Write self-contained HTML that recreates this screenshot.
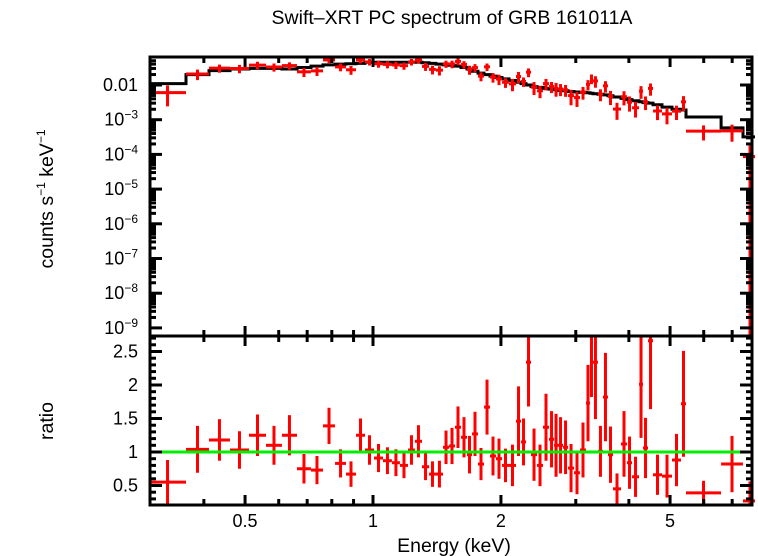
<!DOCTYPE html>
<html><head><meta charset="utf-8"><style>
body{margin:0;background:#fff}
svg{display:block;font-family:"Liberation Sans",sans-serif}
</style></head><body>
<svg id="chart" width="758" height="556" viewBox="0 0 758 556" xmlns="http://www.w3.org/2000/svg">
<defs>
<clipPath id="cTop"><rect x="150" y="57" width="605" height="279"/></clipPath>
<clipPath id="cBot"><rect x="150" y="336" width="605" height="169"/></clipPath>
</defs>
<text x="452" y="24" font-size="19.5" text-anchor="middle">Swift–XRT PC spectrum of GRB 161011A</text>
<text x="454" y="552" font-size="19.5" text-anchor="middle">Energy (keV)</text>
<text transform="translate(53,199) rotate(-90)" font-size="19.5" text-anchor="middle">counts s<tspan font-size="12" dy="-8">−1</tspan><tspan dy="8"> keV</tspan><tspan font-size="12" dy="-8">−1</tspan></text>
<text transform="translate(53,421) rotate(-90)" font-size="19.5" text-anchor="middle">ratio</text>
<g id="gTop" clip-path="url(#cTop)"></g>
<g id="gBot" clip-path="url(#cBot)"></g>
<g id="gAxes"></g>
</svg>
<script>
const binEdges = [0.2972,0.3631,0.4112,0.4607,0.5108,0.5601,0.6106,0.6624,0.7145,0.7627,0.8141,0.8640,0.9120,0.9576,1.0054,1.0556,1.108,1.157,1.209,1.255,1.304,1.355,1.406,1.461,1.510,1.559,1.611,1.664,1.710,1.766,1.825,1.885,1.947,2.012,2.089,2.170,2.230,2.291,2.354,2.432,2.512,2.595,2.667,2.725,2.800,2.877,2.972,3.069,3.171,3.240,3.293,3.383,3.476,3.572,3.670,3.833,3.960,4.069,4.226,4.319,4.437,4.559,4.786,5.053,5.305,5.451,6.591,7.422,8.010];
const ratioVals = [0.55,1.04,1.18,1.03,1.25,1.10,1.25,0.75,0.73,1.39,0.83,0.67,1.25,1.03,0.91,0.87,0.84,0.80,1.03,1.16,0.78,0.67,0.67,1.07,1.09,1.37,1.22,0.96,1.27,0.82,1.67,0.94,0.90,0.80,0.80,1.46,1.15,2.34,0.96,0.80,1.37,1.19,1.10,1.10,1.07,0.76,0.69,1.03,1.73,2.64,2.34,1.01,1.82,0.96,0.45,1.12,0.84,0.63,2.01,1.06,2.66,0.66,0.64,0.88,1.72,0.39,0.82,0.27];
const ratioErrs = [0.33,0.35,0.31,0.28,0.31,0.29,0.30,0.22,0.21,0.27,0.21,0.19,0.25,0.22,0.21,0.20,0.20,0.19,0.22,0.24,0.20,0.19,0.20,0.25,0.27,0.31,0.30,0.28,0.33,0.24,0.41,0.29,0.30,0.25,0.31,0.52,0.35,0.66,0.39,0.31,0.50,0.42,0.47,0.42,0.40,0.36,0.32,0.41,0.57,0.82,0.85,0.38,0.66,0.42,0.23,0.49,0.39,0.30,0.80,0.45,1.02,0.30,0.32,0.39,0.79,0.18,0.42,0.29];
const modelVals = [0.011,0.020,0.026,0.029,0.030,0.030,0.029,0.032,0.035,0.038,0.040,0.041,0.042,0.045,0.045,0.045,0.045,0.045,0.045,0.045,0.044,0.042,0.040,0.038,0.037,0.035,0.032,0.029,0.025,0.022,0.020,0.018,0.0165,0.0150,0.0135,0.0120,0.0110,0.0100,0.0090,0.0085,0.0080,0.0076,0.0073,0.0070,0.0068,0.0065,0.0063,0.0061,0.0060,0.0058,0.0056,0.0054,0.0052,0.0049,0.0045,0.0041,0.0038,0.0035,0.0033,0.0031,0.0030,0.0027,0.0023,0.0020,0.0019,0.0012,0.00058,0.00032];
const xMajorTicks = [0.5,1,2,5];
const xMajorLabels = ["0.5","1","2","5"];
const xMinorTicks = [0.3,0.4,0.6,0.7,0.8,0.9,3,4,6,7];
const ratioTicks = [0.5,1,1.5,2,2.5];
const ratioLabels = ["0.5","1","1.5","2","2.5"];
const countDecades = [-2,-3,-4,-5,-6,-7,-8,-9];

const NS="http://www.w3.org/2000/svg";
const L=150,R=752,T1=57,B1=336,T2=336,B2=505;
function xS(e){return 373+425*Math.log10(e);}
function yC(c){if(c<=0)return 9999;return 85-34.7*Math.log10(c/0.01);}
function yR(r){return 452-67*(r-1);}
function mk(parent,tag,attrs){const el=document.createElementNS(NS,tag);for(const k in attrs)el.setAttribute(k,attrs[k]);parent.appendChild(el);return el;}
const gT=document.getElementById('gTop'),gB=document.getElementById('gBot'),gA=document.getElementById('gAxes');

let d="";
for(let i=0;i<modelVals.length;i++){
  const x0=xS(binEdges[i]),x1=xS(binEdges[i+1]),y=yC(modelVals[i]);
  d+=(i===0?"M":"L")+x0.toFixed(1)+","+y.toFixed(1)+"L"+x1.toFixed(1)+","+y.toFixed(1);
}
const mp=mk(gT,'path',{d:d,fill:'none',stroke:'#000','stroke-width':3});



for(let i=0;i<ratioVals.length;i++){
  const x0=xS(binEdges[i]),x1=xS(binEdges[i+1]),xc=xS(Math.sqrt(binEdges[i]*binEdges[i+1]));
  const c=modelVals[i]*ratioVals[i],ce=modelVals[i]*ratioErrs[i];
  const g1=mk(gT,'g',{stroke:'#f00','stroke-width':3});
  
  
  mk(g1,'line',{x1:x0,x2:x1,y1:yC(c),y2:yC(c)});
  mk(g1,'line',{x1:xc,x2:xc,y1:yC(c+ce),y2:Math.min(400,yC(c-ce))});
  const r=ratioVals[i],re=ratioErrs[i];
  const g2=mk(gB,'g',{stroke:'#f00','stroke-width':3});
  
  
  mk(g2,'line',{x1:x0,x2:x1,y1:yR(r),y2:yR(r)});
  mk(g2,'line',{x1:xc,x2:xc,y1:yR(r+re),y2:yR(r-re)});
}
const gl=mk(gB,'line',{x1:L,x2:R,y1:yR(1),y2:yR(1),stroke:'#0e0','stroke-width':3});



for(const [t,b,n] of [[T1,B1,'top-frame'],[T2,B2,'ratio-frame']]){
  const f=mk(gA,'rect',{x:L,y:t,width:R-L,height:b-t,fill:'none',stroke:'#000','stroke-width':3});
  
  
}
function tk(x1,y1,x2,y2){mk(gA,'line',{x1:x1,y1:y1,x2:x2,y2:y2,stroke:'#000','stroke-width':3});}
for(const [t,b] of [[T1,B1],[T2,B2]]){
  xMajorTicks.forEach(e=>{const x=xS(e);tk(x,t,x,t+10);tk(x,b,x,b-10);});
  xMinorTicks.forEach(e=>{const x=xS(e);if(x>L+2){tk(x,t,x,t+6);tk(x,b,x,b-6);}});
}
xMajorTicks.forEach((e,i)=>{
  const t=mk(gA,'text',{x:xS(e),y:527,'font-size':18,'text-anchor':'middle'});
  t.textContent=xMajorLabels[i];
  
  
});
countDecades.forEach(p=>{
  const y=yC(Math.pow(10,p));
  tk(L,y,L+12,y);tk(R,y,R-12,y);
  for(let m=2;m<=9;m++){const ym=yC(m*Math.pow(10,p));if(ym>T1+1){tk(L,ym,L+6,ym);tk(R,ym,R-6,ym);}}
  const t=mk(gA,'text',{x:138,y:y+6,'font-size':18,'text-anchor':'end'});
  
  
  if(p===-2)t.textContent="0.01";
  else{t.textContent="10";const s=mk(t,'tspan',{'font-size':12,dy:-7});s.textContent=String(p).replace('-','−');}
});
ratioTicks.forEach((r,i)=>{
  const y=yR(r);tk(L,y,L+12,y);tk(R,y,R-12,y);
  const t=mk(gA,'text',{x:138,y:y+6,'font-size':18,'text-anchor':'end'});
  t.textContent=ratioLabels[i];
  
  
});
for(let r=0.3;r<2.75;r+=0.1){const y=yR(r);if(y<B2-1&&y>T2+1){tk(L,y,L+6,y);tk(R,y,R-6,y);}}
</script>
</body></html>
